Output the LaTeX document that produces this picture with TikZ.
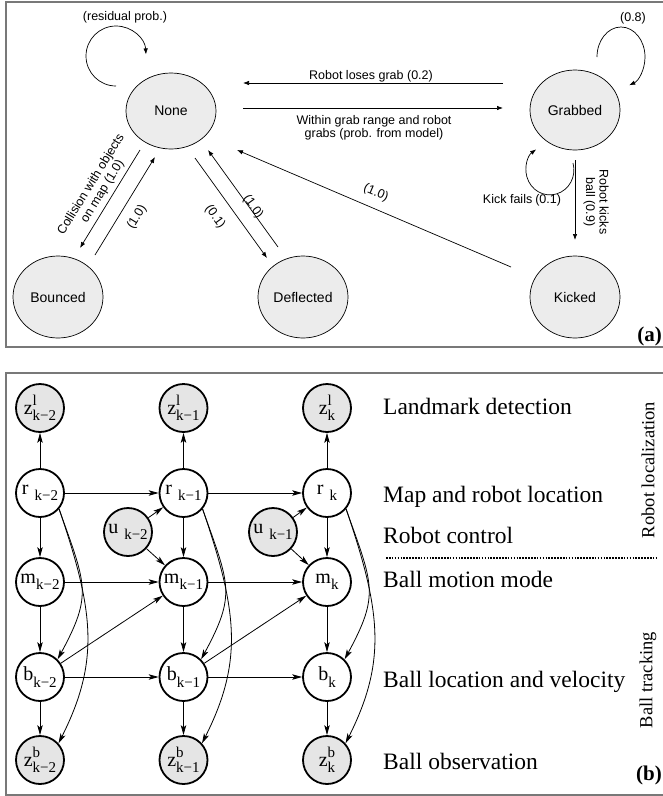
\documentclass[tikz,border=0pt]{standalone}
\usepackage{fontspec}
\setmainfont{Liberation Serif}
\newfontfamily\helv{Liberation Sans}
\usetikzlibrary{shapes.geometric,arrows.meta,calc}
\definecolor{framegray}{RGB}{120,120,120}
\newcommand{\sfs}{\fontsize{15}{15}\selectfont}
\newcommand{\zlab}[2]{z\rlap{\raisebox{0.42em}{\sfs #1}}\raisebox{-0.32em}{\sfs #2}}
\newcommand{\slab}[2]{#1\raisebox{-0.32em}{\sfs #2}}
\newcommand{\gsub}[2]{#1\hspace{6pt}\raisebox{-0.32em}{\sfs #2}}
\begin{document}
\begin{tikzpicture}[x=1pt,y=-1pt,
  stnode/.style={ellipse,draw,line width=0.7pt,fill=gray!15,inner sep=0pt,minimum width=90pt,minimum height=82pt,font=\helv\fontsize{14}{16}\selectfont},
  arra/.style={-{Latex[length=6pt,width=4.5pt]},line width=0.7pt},
  elab/.style={font=\helv\fontsize{12.5}{13.5}\selectfont,inner sep=0pt,align=center},
  bn/.style={circle,draw,line width=1.8pt,minimum size=48pt,inner sep=0pt,fill=white,font=\fontsize{20}{20}\selectfont},
  obs/.style={bn,fill=gray!20},
  arrb/.style={-{Stealth[length=10pt,width=5.5pt,inset=2.5pt]},line width=0.8pt},
  rowlab/.style={font=\fontsize{23.5}{24}\selectfont,anchor=base west,inner sep=0pt},
  sidelab/.style={font=\fontsize{18.5}{19}\selectfont,rotate=90,inner sep=0pt},
  panellab/.style={font=\fontsize{21}{21}\selectfont\bfseries,anchor=base east,inner sep=0pt},
  frame/.style={draw=framegray,line width=2pt},
  sep/.style={line width=1.6pt,dash pattern=on 1.6pt off 1.3pt}]
\useasboundingbox (0,0) rectangle (663,796);
\draw[frame] (6,2) rectangle (720,347);
\draw[frame] (6,373) rectangle (720,795);

% ---------- part (a) ----------
\node[stnode,minimum height=76pt] (none) at (171,111) {None};
\node[stnode,minimum height=80pt] (grab) at (575,110) {Grabbed};
\node[stnode] (bounce) at (58,297) {Bounced};
\node[stnode] (defl) at (303,297) {Deflected};
\node[stnode] (kick) at (575,297) {Kicked};

\draw[arra] ($(grab)+(-72,-27)$) -- ($(none)+(72,-28)$);
\draw[arra] ($(none)+(72,-3)$) -- ($(grab)+(-72,-2)$);
\draw[arra] ($(none)+(-31,39)$) -- ($(bounce)+(22,-49)$);
\draw[arra] ($(bounce)+(37,-42)$) -- ($(none)+(-16,46)$);
\draw[arra] ($(none)+(24,47)$) -- ($(defl)+(-36,-39)$);
\draw[arra] ($(defl)+(-25,-50)$) -- ($(none)+(37,39)$);
\draw[arra] ($(kick)+(-64,-30)$) -- ($(none)+(66,39)$);
\draw[arra] ($(grab)+(0,50)$) -- ($(kick)+(0,-57)$);
\draw[arra] ($(none)+(-55,-25)$) arc[start angle=90,end angle=357,radius=30];
\draw[arra] ($(grab)+(22,-53)$) arc[start angle=180,end angle=430,x radius=24,y radius=30];
\draw[arra] ($(grab)+(-2,53)$) arc[start angle=-16,end angle=235,x radius=24,y radius=25];

\node[elab] (lres) at (125,17) {(residual prob.)};
\node[elab] (l08) at (633,18) {(0.8)};
\node[elab] (lkf) at (522,200) {Kick fails\hspace{3pt}(0.1)};
\node[elab] (lloss) at (371,76) {Robot loses grab (0.2)};
\node[elab] (lwithin) at (374,128) {Within grab range and robot\\grabs (prob. from model)};
\node[elab,rotate=58.5] (lcoll) at (97,188) {Collision with objects\\on map (1.0)};
\node[elab,rotate=58.5] (lbn) at (137,217) {(1.0)};
\node[elab,rotate=-54] (lnd) at (215,217) {(0.1)};
\node[elab,rotate=-54] (ldn) at (253,207) {(1.0)};
\node[elab,rotate=-23] (lkn) at (376,193) {(1.0)};
\node[elab,rotate=-90] (lkick) at (596,202) {Robot kicks\\ball (0.9)};
\node[panellab] (pa) at (662,341) {(a)};

% ---------- part (b) ----------
\node[obs] (zl1) at (40,408) {\zlab{l}{k−2}};
\node[obs] (zl2) at (183.5,408) {\zlab{l}{k−1}};
\node[obs] (zl3) at (327,408) {\zlab{l}{k}};
\node[bn] (r1) at (40,493) {\gsub{r}{k−2}};
\node[bn] (r2) at (183.5,493) {\gsub{r}{k−1}};
\node[bn] (r3) at (327,493) {\gsub{r}{k}};
\node[obs] (u1) at (128,532) {\gsub{u}{k−2}};
\node[obs] (u2) at (273,532) {\gsub{u}{k−1}};
\node[bn] (m1) at (40,582) {\slab{m}{k−2}};
\node[bn] (m2) at (183.5,582) {\slab{m}{k−1}};
\node[bn] (m3) at (327,582) {\slab{m}{k}};
\node[bn] (b1) at (40,677) {\slab{b}{k−2}};
\node[bn] (b2) at (183.5,677) {\slab{b}{k−1}};
\node[bn] (b3) at (327,677) {\slab{b}{k}};
\node[obs] (zb1) at (40,760) {\zlab{b}{k−2}};
\node[obs] (zb2) at (183.5,760) {\zlab{b}{k−1}};
\node[obs] (zb3) at (327,760) {\zlab{b}{k}};

\foreach \c in {1,2,3}{
  \draw[arrb] (r\c) -- (zl\c);
  \draw[arrb] (r\c) -- (m\c);
  \draw[arrb] (m\c) -- (b\c);
  \draw[arrb] (b\c) -- (zb\c);
  \draw[arrb] (r\c.-40) .. controls ($(r\c)+(46,92)$) and ($(b\c)+(53,-83)$) .. (b\c.45);
  \draw[arrb] (r\c.-40) .. controls ($(r\c)+(54,118)$) and ($(zb\c)+(60,-99)$) .. (zb\c.42);
}
\draw[arrb] (r1) -- (r2);
\draw[arrb] (r2) -- (r3);
\draw[arrb] (m1) -- (m2);
\draw[arrb] (m2) -- (m3);
\draw[arrb] (b1) -- (b2);
\draw[arrb] (b2) -- (b3);
\draw[arrb] (u1) -- (r2);
\draw[arrb] (u1) -- (m2);
\draw[arrb] (u2) -- (r3);
\draw[arrb] (u2) -- (m3);
\draw[arrb] (b1) -- (m2);
\draw[arrb] (b2) -- (m3);

\node[rowlab] (t1) at (383,414) {Landmark detection};
\node[rowlab] (t2) at (383,502) {Map and robot location};
\node[rowlab] (t3) at (383,543) {Robot control};
\node[rowlab] (t4) at (383,587) {Ball motion mode};
\node[rowlab] (t5) at (383,687) {Ball location and velocity};
\node[rowlab] (t6) at (383,769) {Ball observation};
\coordinate (sepa) at (386,558);
\coordinate (sepb) at (656,558);
\draw[sep] (sepa) -- (sepb);
\node[sidelab] (s1) at (648,470) {Robot localization};
\node[sidelab] (s2) at (648,680) {Ball tracking};
\node[panellab] (pb) at (662,780) {(b)};
\end{tikzpicture}
\end{document}
